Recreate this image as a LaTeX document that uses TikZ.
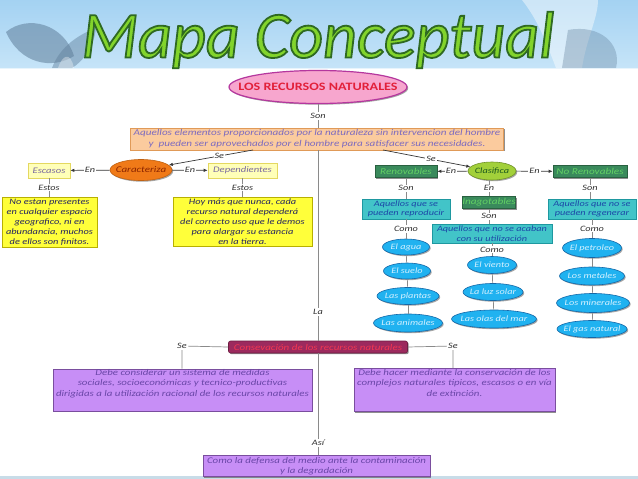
\documentclass[tikz,border=0pt]{standalone}
\usepackage{fontspec}
\setmainfont{Carlito}
\newfontfamily\wf{Carlito}[FakeStretch=1.25]
\usetikzlibrary{shapes.geometric,arrows.meta,shadows,calc}
\newcommand\zwbox[1]{\hbox to 0pt{\hss#1\hss}}
\definecolor{bannerTop}{HTML}{A4D2F2}
\definecolor{bannerBot}{HTML}{C6E4F8}
\definecolor{bfly}{HTML}{5F7E9A}
\definecolor{titleFill}{HTML}{82D42C}
\definecolor{pinkFill}{HTML}{F7A6CE}
\definecolor{pinkLine}{HTML}{B5379E}
\definecolor{pinkText}{HTML}{E2203A}
\definecolor{orFill}{HTML}{FBCB9E}
\definecolor{orLine}{HTML}{E09A58}
\definecolor{orText}{HTML}{7C6AC0}
\definecolor{carFill}{HTML}{F07A18}
\definecolor{carText}{HTML}{8A2400}
\definecolor{ltYFill}{HTML}{FFFFB8}
\definecolor{ltYLine}{HTML}{E4D860}
\definecolor{ltYText}{HTML}{7A6AA0}
\definecolor{yFill}{HTML}{FFFF3A}
\definecolor{yLine}{HTML}{B8B000}
\definecolor{yText}{HTML}{262660}
\definecolor{claFill}{HTML}{A2D03A}
\definecolor{claText}{HTML}{1E5A1E}
\definecolor{dgFill}{HTML}{3A8A5C}
\definecolor{dgText}{HTML}{62D064}
\definecolor{tealFill}{HTML}{42C4C8}
\definecolor{tealLine}{HTML}{1E98A0}
\definecolor{tealText}{HTML}{1C48A8}
\definecolor{cyFill}{HTML}{20B2F0}
\definecolor{cyLine}{HTML}{1468A8}
\definecolor{cyText}{HTML}{D2F0FF}
\definecolor{consFill}{HTML}{9C2A5E}
\definecolor{consText}{HTML}{F23652}
\definecolor{puFill}{HTML}{C78EF6}
\definecolor{puLine}{HTML}{7A4E9E}
\definecolor{puText}{HTML}{6A46A8}
\definecolor{connCol}{HTML}{8A8A8A}
\definecolor{lblText}{HTML}{303030}
\definecolor{stripCol}{HTML}{C8DCE8}
\begin{document}
\begin{tikzpicture}[x=1pt,y=-1pt,
  base/.style={inner sep=0pt, align=center, font=\wf\itshape\fontsize{8}{9.5}\selectfont},
  shbox/.style={base, rectangle, draw, line width=0.6pt,
     drop shadow={shadow xshift=1.2pt, shadow yshift=-1.2pt, fill=black!55, opacity=0.8}},
  shell/.style={base, ellipse, draw, line width=0.6pt,
     drop shadow={shadow xshift=1.2pt, shadow yshift=-1.2pt, fill=black!50, opacity=0.7}},
  orbox/.style={shbox, fill=orFill, draw=orLine, text=orText, font=\wf\itshape\fontsize{8.9}{11}\selectfont},
  lybox/.style={shbox, fill=ltYFill, draw=ltYLine, text=ltYText, font=\wf\itshape\fontsize{8.5}{10}\selectfont},
  ybox/.style={shbox, fill=yFill, draw=yLine, text=yText, font=\wf\itshape\fontsize{8.3}{10}\selectfont},
  dgbox/.style={shbox, fill=dgFill, draw=dgFill!70!black, text=dgText, font=\wf\itshape\fontsize{9}{9}\selectfont},
  tealbox/.style={shbox, fill=tealFill, draw=tealLine, text=tealText, font=\wf\itshape\fontsize{8.2}{9.5}\selectfont},
  cyell/.style={shell, fill=cyFill, draw=cyLine, text=cyText, font=\wf\itshape\fontsize{8.2}{9}\selectfont},
  pubox/.style={shbox, fill=puFill, draw=puLine, text=puText, font=\wf\itshape\fontsize{8.7}{10.5}\selectfont},
  conn/.style={draw=connCol, line width=0.7pt},
  arr/.style={conn, -{Latex[length=4pt,width=3.4pt]}, color=connCol!40!black},
  lbl/.style={fill=white, inner sep=1pt, text=lblText, font=\wf\itshape\fontsize{8.2}{8.5}\selectfont}
]
\useasboundingbox (0,0) rectangle (638,479);
\fill[white] (0,0) rectangle (638,479);
% banner
\shade[top color=bannerTop, bottom color=bannerBot] (0,0) rectangle (638,68);
\fill[bfly, opacity=0.55] (6,32) .. controls (28,14) and (64,24) .. (74,56) .. controls (52,70) and (20,64) .. (6,32) -- cycle;
\fill[bfly, opacity=0.45] (52,68) .. controls (60,46) and (80,34) .. (96,28) .. controls (94,48) and (82,62) .. (72,68) -- cycle;
\fill[white, opacity=0.35] (58,68) .. controls (62,56) and (70,50) .. (74,68) -- cycle;
\fill[white, opacity=0.45] (522,0) .. controls (538,20) and (546,42) .. (556,68) -- (582,68) .. controls (586,40) and (598,18) .. (598,0) -- cycle;
\fill[bfly, opacity=0.35] (568,30) .. controls (600,24) and (622,44) .. (616,68) -- (562,68) -- cycle;
\fill[white, opacity=0.6] (0,67.5) rectangle (638,69);
\fill[stripCol] (0,476) rectangle (638,479);
% title (filled text with dark outline)
\node[inner sep=0pt, font=\itshape\fontsize{66}{66}\selectfont] (title) at (318,40)
  {\color{titleFill}\special{pdf:literal direct 0.184 0.416 0.133 RG 1.8 w 2 Tr}Mapa Conceptual\special{pdf:literal direct 0 Tr}};
% main nodes
\node[shell, fill=pinkFill, draw=pinkLine, line width=1.2pt, text=pinkText, font=\wf\bfseries\fontsize{11.3}{12}\selectfont,
  minimum width=178pt, minimum height=33pt] (rn) at (318,87) {\zwbox{LOS RECURSOS NATURALES}};
\node[orbox, minimum width=373pt, minimum height=22pt] (def) at (317,139)
  {Aquellos elementos proporcionados por la naturaleza sin intervencion del hombre\\ y \ pueden ser aprovechados por el hombre para satisfacer sus necesidades.};
\node[shell, fill=carFill, draw=carFill!80!black, text=carText, font=\wf\itshape\fontsize{8.8}{9}\selectfont,
  minimum width=62pt, minimum height=21pt] (car) at (141,170) {\zwbox{Caracteriza}};
\node[lybox, minimum width=42pt, minimum height=15pt] (esc) at (49,170.5) {Escasos};
\node[lybox, minimum width=69pt, minimum height=15pt] (dep) at (242.5,170.5) {Dependientes};
\node[ybox, minimum width=95pt, minimum height=50pt] (escT) at (49.5,222)
  {No estan presentes\\ en cualquier espacio\\ geografico, ni en\\ abundancia, muchos\\ de ellos son finitos.};
\node[ybox, minimum width=139pt, minimum height=49pt] (depT) at (242.5,221.5)
  {Hoy más que nunca, cada\\ recurso natural dependerá\\ del correcto uso que le demos\\ para alargar su estancia\\ en la tierra.};
\node[shell, fill=claFill, draw=claFill!70!black, text=claText, font=\wf\itshape\fontsize{8.2}{9}\selectfont,
  minimum width=48pt, minimum height=18pt] (cla) at (492,171) {\zwbox{Clasifica}};
\node[dgbox, minimum width=62pt, minimum height=12pt] (ren) at (406,171.5) {Renovables};
\node[dgbox, minimum width=74pt, minimum height=12pt] (nren) at (590,171.5) {No Renovables};
\node[dgbox, minimum width=52pt, minimum height=12pt] (ina) at (489,202.5) {Inagotables};
\node[tealbox, minimum width=88pt, minimum height=20pt] (renT) at (406,209) {Aquellos que se\\ pueden reproducir};
\node[tealbox, minimum width=88pt, minimum height=20pt] (nrenT) at (592,209) {Aquellos que no se\\ pueden regenerar};
\node[tealbox, minimum width=120pt, minimum height=19pt] (inaT) at (492,233.5) {Aquellos que no se acaban\\ con su utilización};
% ellipses
\node[cyell, minimum width=47pt, minimum height=16pt] (agua) at (406,247) {\zwbox{El agua}};
\node[cyell, minimum width=47pt, minimum height=16pt] (suelo) at (407,271) {\zwbox{El suelo}};
\node[cyell, minimum width=62pt, minimum height=17pt] (plantas) at (408,296) {\zwbox{Las plantas}};
\node[cyell, minimum width=69pt, minimum height=18pt] (animales) at (408,323) {\zwbox{Las animales}};
\node[cyell, minimum width=49pt, minimum height=17pt] (viento) at (492,265) {\zwbox{El viento}};
\node[cyell, minimum width=60pt, minimum height=17pt] (luz) at (493,292) {\zwbox{La luz solar}};
\node[cyell, minimum width=85pt, minimum height=18pt] (olas) at (494,319) {\zwbox{Las olas del mar}};
\node[cyell, minimum width=59pt, minimum height=19pt] (petro) at (592,248) {\zwbox{El petroleo}};
\node[cyell, minimum width=65pt, minimum height=18pt] (metales) at (592,276) {\zwbox{Los metales}};
\node[cyell, minimum width=73pt, minimum height=19pt] (minerales) at (593,303) {\zwbox{Los minerales}};
\node[cyell, minimum width=70pt, minimum height=17pt] (gas) at (592,329) {\zwbox{El gas natural}};
% lower part
\node[shbox, rounded corners=2pt, fill=consFill, draw=consFill!70!black, text=consText,
  font=\wf\itshape\fontsize{8.8}{9}\selectfont, minimum width=179pt, minimum height=12pt] (cons) at (318,347)
  {Consevación de los recursos naturales};
\node[pubox, minimum width=259pt, minimum height=42pt] (lbox) at (182.5,390)
  {Debe considerar un sistema de medidas\\ sociales, socioeconómicas y tecnico-productivas\\ dirigidas a la utilización racional de los recursos naturales\\[4pt]};
\node[pubox, minimum width=201pt, minimum height=43pt] (rbox) at (454.5,390)
  {Debe hacer mediante la conservación de los\\ complejos naturales tipicos, escasos o en vía\\ de extinción.\\[4pt]};
\node[pubox, minimum width=227pt, minimum height=21pt, font=\wf\itshape\fontsize{8.7}{10}\selectfont] (bbox) at (316.5,466)
  {Como la defensa del medio ante la contaminación\\ y la degradación};
% helper coordinates
\coordinate (defSL) at (253,150);
\coordinate (defSR) at (383,150);
\coordinate (seL) at (182,346);
\coordinate (seR) at (453,346);
\coordinate (defB) at (318,150);
% connectors
\draw[conn] (rn.south) -- node[lbl]{Son} (rn.south |- def.north);
\draw[arr] (defSL) -- node[lbl, pos=0.4]{Se} (car);
\draw[arr] (defSR) -- node[lbl, pos=0.55]{Se} (cla);
\draw[arr] (car) -- node[lbl, pos=0.5]{En} (esc);
\draw[arr] (car) -- node[lbl, pos=0.5]{En} (dep);
\draw[conn] (esc.south) -- node[lbl]{Estos} (esc.south |- escT.north);
\draw[conn] (dep.south) -- node[lbl]{Estos} (dep.south |- depT.north);
\draw[arr] (cla) -- node[lbl, pos=0.55]{En} (ren);
\draw[arr] (cla) -- node[lbl, pos=0.5]{En} (nren);
\draw[conn] (ren.south) -- node[lbl]{Son} (ren.south |- renT.north);
\draw[conn] (cla.south -| ina.north) -- node[lbl]{En} (ina.north);
\draw[conn] (nren.south) -- node[lbl]{Son} (nren.south |- nrenT.north);
\draw[conn] (ina.south) -- node[lbl]{Son} (ina.south |- inaT.north);
\draw[conn] (renT.south) -- node[lbl]{Como} (renT.south |- agua.north);
\draw[conn] (agua) -- (suelo);
\draw[conn] (suelo) -- (plantas);
\draw[conn] (plantas) -- (animales);
\draw[conn] (inaT.south) -- node[lbl]{Como} (inaT.south |- viento.north);
\draw[conn] (viento) -- (luz);
\draw[conn] (luz) -- (olas);
\draw[conn] (nrenT.south) -- node[lbl]{Como} (nrenT.south |- petro.north);
\draw[conn] (petro) -- (metales);
\draw[conn] (metales) -- (minerales);
\draw[conn] (minerales) -- (gas);
\draw[conn] (defB) -- node[lbl, pos=0.85]{La} (defB |- cons.north);
\draw[conn] (cons.west) -- (seL) -- (seL |- lbox.north);
\draw[conn] (cons.east) -- (seR) -- (seR |- rbox.north);
\node[lbl] at (seL) {Se};
\node[lbl] at (seR) {Se};
\draw[conn] (cons.south) -- node[lbl, pos=0.88]{Así} (cons.south |- bbox.north);
\end{tikzpicture}
\end{document}
